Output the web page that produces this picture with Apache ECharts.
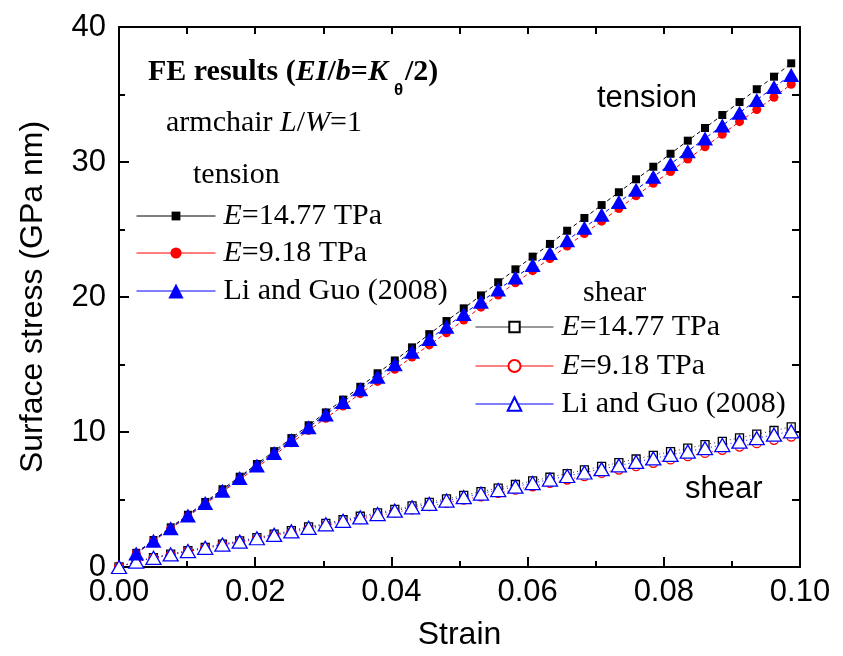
<!DOCTYPE html>
<html>
<head>
<meta charset="utf-8">
<script src="https://cdn.jsdelivr.net/npm/echarts@6/dist/echarts.min.js"></script>
<style>
  html, body { margin: 0; padding: 0; background: #fff; }
  #chart { width: 843px; height: 656px; }
</style>
</head>
<body>
<div id="chart"></div>
<script>
// Strain steps shared by all curves
const strain = [0, 0.00253, 0.00506, 0.00759, 0.01012, 0.01266, 0.01519, 0.01772, 0.02025, 0.02278,
  0.02531, 0.02784, 0.03037, 0.03290, 0.03543, 0.03797, 0.04050, 0.04303, 0.04556, 0.04809,
  0.05062, 0.05315, 0.05568, 0.05821, 0.06074, 0.06328, 0.06581, 0.06834, 0.07087, 0.07340,
  0.07593, 0.07846, 0.08099, 0.08352, 0.08605, 0.08859, 0.09112, 0.09365, 0.09618, 0.09871];

// Tension: values from the first non-zero strain step onward (GPa nm)
const tensionE1477 = [1.05, 2.0, 2.94, 3.87, 4.82, 5.76, 6.69, 7.63, 8.58, 9.55,
  10.5, 11.45, 12.4, 13.35, 14.35, 15.3, 16.27, 17.25, 18.22, 19.16,
  20.12, 21.09, 22.05, 22.99, 23.93, 24.91, 25.85, 26.81, 27.76, 28.72,
  29.65, 30.61, 31.58, 32.52, 33.48, 34.44, 35.39, 36.32, 37.31];
const tensionE918 = [0.98, 1.92, 2.83, 3.75, 4.66, 5.56, 6.48, 7.38, 8.3, 9.2,
  10.12, 11.02, 11.93, 12.84, 13.75, 14.65, 15.55, 16.45, 17.35, 18.3,
  19.25, 20.15, 21.05, 21.95, 22.85, 23.78, 24.7, 25.62, 26.55, 27.5,
  28.42, 29.3, 30.22, 31.13, 32.05, 32.99, 33.88, 34.8, 35.76];
const tensionLiGuo = [1.0, 1.95, 2.87, 3.82, 4.74, 5.65, 6.6, 7.52, 8.45, 9.4,
  10.35, 11.3, 12.22, 13.17, 14.1, 15.02, 15.95, 16.88, 17.8, 18.75,
  19.65, 20.55, 21.45, 22.37, 23.26, 24.2, 25.13, 26.1, 27.03, 27.95,
  28.9, 29.85, 30.8, 31.75, 32.7, 33.65, 34.6, 35.55, 36.44];

// Shear: values at every strain step, starting at zero (GPa nm)
const shearE1477 = [0, 0.42, 0.7, 0.96, 1.21, 1.46, 1.7, 1.93, 2.18, 2.44,
  2.7, 2.97, 3.23, 3.5, 3.76, 4.01, 4.27, 4.53, 4.79, 5.05,
  5.31, 5.58, 5.85, 6.11, 6.38, 6.65, 6.92, 7.19, 7.45, 7.73,
  8.0, 8.27, 8.54, 8.8, 9.06, 9.31, 9.57, 9.84, 10.11, 10.38];
const shearE918 = [0, 0.39, 0.66, 0.9, 1.14, 1.38, 1.61, 1.83, 2.07, 2.31,
  2.56, 2.81, 3.06, 3.31, 3.55, 3.79, 4.03, 4.27, 4.51, 4.75,
  4.99, 5.24, 5.49, 5.73, 5.98, 6.23, 6.48, 6.73, 6.97, 7.22,
  7.47, 7.72, 7.97, 8.21, 8.45, 8.68, 8.92, 9.17, 9.42, 9.66];
const shearLiGuo = [0, 0.4, 0.68, 0.93, 1.18, 1.42, 1.66, 1.88, 2.13, 2.38,
  2.64, 2.9, 3.16, 3.42, 3.67, 3.92, 4.17, 4.42, 4.67, 4.92,
  5.17, 5.44, 5.7, 5.95, 6.22, 6.48, 6.74, 7.0, 7.25, 7.52,
  7.78, 8.04, 8.3, 8.55, 8.8, 9.03, 9.28, 9.54, 9.8, 10.05];

// Axis ticks
const xTicks = [0, 0.02, 0.04, 0.06, 0.08, 0.10];
const yTicks = [0, 10, 20, 30, 40];

// Legend labels
const labels = {
  tE1477: '{i|E}=14.77 TPa',
  tE918: '{i|E}=9.18 TPa',
  tLG: 'Li and Guo (2008)',
  sE1477: '{i|E}=14.77 TPa',
  sE918: '{i|E}=9.18 TPa',
  sLG: 'Li and Guo (2008)'
};

const SANS = 'Liberation Sans';
const SERIF = 'Liberation Serif';

const tensionPairs = vals => vals.map((v, k) => [strain[k + 1], v]);
const shearPairs = vals => vals.map((v, k) => [strain[k], v]);

function lineSeries(name, data, symbol, size, fill, stroke, lineColor, dash, z) {
  return {
    name: name,
    type: 'line',
    data: data,
    symbol: symbol,
    symbolSize: size,
    showAllSymbol: true,
    clip: false,
    z: z,
    itemStyle: { color: fill, borderColor: stroke, borderWidth: fill === '#fff' ? 1.3 : 0 },
    lineStyle: { color: lineColor, width: 1, type: dash },
    emphasis: { disabled: true },
    animation: false
  };
}

function legendFor(name, left, centerY, itemHeight, itemWidth) {
  return {
    data: [name],
    left: left,
    top: centerY - 15,
    orient: 'vertical',
    padding: 0,
    itemWidth: itemWidth,
    itemHeight: itemHeight,
    selectedMode: false,
    lineStyle: { type: 'solid', width: 1 },
    formatter: n => labels[n],
    textStyle: {
      fontFamily: SERIF, fontSize: 30, lineHeight: 30, color: '#000',
      padding: [0, 0, 0, 3],
      rich: { i: { fontFamily: SERIF, fontStyle: 'italic', fontSize: 30, lineHeight: 30, color: '#000' } }
    }
  };
}

const chart = echarts.init(document.getElementById('chart'), null, { renderer: 'canvas' });

const option = {
  backgroundColor: '#fff',
  animation: false,
  grid: { left: 119, right: 43, top: 27, bottom: 89, containLabel: false },
  xAxis: [
    {
      type: 'value', min: xTicks[0], max: xTicks[xTicks.length - 1], interval: 0.02,
      position: 'bottom',
      name: 'Strain', nameLocation: 'middle', nameGap: 52,
      nameTextStyle: { fontFamily: SANS, fontSize: 32, color: '#000' },
      axisLine: { onZero: false, lineStyle: { color: '#000', width: 2 } },
      axisTick: { inside: true, length: 10, lineStyle: { color: '#000', width: 2 } },
      minorTick: { show: true, splitNumber: 2, length: 6, lineStyle: { color: '#000', width: 2 } },
      splitLine: { show: false },
      axisLabel: { margin: 10, fontFamily: SANS, fontSize: 31, color: '#000',
        formatter: v => v.toFixed(2) }
    },
    {
      type: 'value', min: 0, max: 0.1, interval: 0.01, position: 'top',
      axisLine: { onZero: false, lineStyle: { color: '#000', width: 2 } },
      axisTick: { inside: true, length: 7, lineStyle: { color: '#000', width: 2 } },
      axisLabel: { show: false }, splitLine: { show: false }
    }
  ],
  yAxis: [
    {
      type: 'value', min: yTicks[0], max: yTicks[yTicks.length - 1], interval: 10,
      position: 'left',
      name: 'Surface stress (GPa nm)', nameLocation: 'middle', nameGap: 70,
      nameTextStyle: { fontFamily: SANS, fontSize: 32, color: '#000' },
      axisLine: { onZero: false, lineStyle: { color: '#000', width: 2 } },
      axisTick: { inside: true, length: 10, lineStyle: { color: '#000', width: 2 } },
      minorTick: { show: true, splitNumber: 2, length: 6, lineStyle: { color: '#000', width: 2 } },
      splitLine: { show: false },
      axisLabel: { margin: 13, fontFamily: SANS, fontSize: 31, color: '#000' }
    },
    {
      type: 'value', min: 0, max: 40, interval: 5, position: 'right',
      axisLine: { onZero: false, lineStyle: { color: '#000', width: 2 } },
      axisTick: { inside: true, length: 8, lineStyle: { color: '#000', width: 2 } },
      axisLabel: { show: false }, splitLine: { show: false }
    }
  ],
  legend: [
    legendFor('tE1477', 136, 216, 11, 79),
    legendFor('tE918', 136, 253, 14, 79),
    legendFor('tLG', 136, 291, 19, 79),
    legendFor('sE1477', 475, 327, 13, 78),
    legendFor('sE918', 475, 366, 15, 78),
    legendFor('sLG', 475, 404, 17, 78)
  ],
  series: [
    lineSeries('sE1477', shearPairs(shearE1477), 'rect', 8, '#fff', '#000', '#333', [1, 3], 2),
    lineSeries('sE918', shearPairs(shearE918), 'circle', 9, '#fff', '#ff0000', '#ff0000', [1, 3], 3),
    lineSeries('sLG', shearPairs(shearLiGuo), 'triangle', [15, 13], '#fff', '#0000ff', '#0000ff', [1, 3], 4),
    lineSeries('tE1477', tensionPairs(tensionE1477), 'rect', 8, '#000', '#000', '#000', [4, 3], 5),
    lineSeries('tE918', tensionPairs(tensionE918), 'circle', 9, '#ff0000', '#ff0000', '#ff0000', [4, 3], 6),
    lineSeries('tLG', tensionPairs(tensionLiGuo), 'triangle', [16, 14], '#0000ff', '#0000ff', '#0000ff', [4, 3], 7)
  ],
  graphic: [
    {
      type: 'text', left: 148, top: 57, z: 10,
      style: {
        text: '{b|FE results (}{bi|EI}{b|/}{bi|b}{b|=}{bi|K}',
        rich: {
          b: { fontFamily: SERIF, fontWeight: 'bold', fontSize: 30, lineHeight: 30, fill: '#000' },
          bi: { fontFamily: SERIF, fontWeight: 'bold', fontStyle: 'italic', fontSize: 30, lineHeight: 30, fill: '#000' }
        }
      }
    },
    {
      type: 'text', left: 394, top: 80, z: 10,
      style: { text: 'θ', fontFamily: SANS, fontWeight: 'bold', fontSize: 17, lineHeight: 20, fill: '#000' }
    },
    {
      type: 'text', left: 405, top: 57, z: 10,
      style: { text: '/2)', fontFamily: SERIF, fontWeight: 'bold', fontSize: 30, lineHeight: 30, fill: '#000' }
    },
    {
      type: 'text', left: 166, top: 108, z: 10,
      style: {
        text: '{n|armchair }{i|L}{n|/}{i|W}{n|=1}',
        rich: {
          n: { fontFamily: SERIF, fontSize: 30, lineHeight: 30, fill: '#000' },
          i: { fontFamily: SERIF, fontStyle: 'italic', fontSize: 30, lineHeight: 30, fill: '#000' }
        }
      }
    },
    {
      type: 'text', left: 193, top: 160, z: 10,
      style: { text: 'tension', fontFamily: SERIF, fontSize: 30, lineHeight: 30, fill: '#000' }
    },
    {
      type: 'text', left: 583, top: 278, z: 10,
      style: { text: 'shear', fontFamily: SERIF, fontSize: 30, lineHeight: 30, fill: '#000' }
    },
    {
      type: 'text', left: 597, top: 83, z: 10,
      style: { text: 'tension', fontFamily: SANS, fontSize: 31, lineHeight: 30, fill: '#000' }
    },
    {
      type: 'text', left: 685, top: 474, z: 10,
      style: { text: 'shear', fontFamily: SANS, fontSize: 31, lineHeight: 30, fill: '#000' }
    }
  ]
};

chart.setOption(option);
</script>
</body>
</html>
